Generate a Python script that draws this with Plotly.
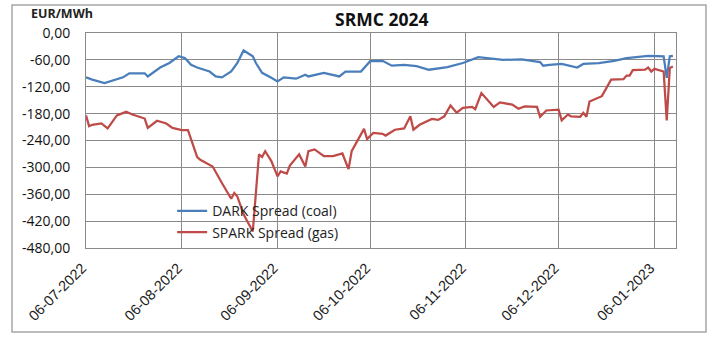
import plotly.graph_objects as go

dark_dates = ["2022-07-06","2022-07-08","2022-07-12","2022-07-15","2022-07-18","2022-07-20","2022-07-25","2022-07-26",
"2022-07-28","2022-07-30","2022-08-02","2022-08-05","2022-08-07","2022-08-09","2022-08-11","2022-08-15","2022-08-17",
"2022-08-19","2022-08-22","2022-08-24","2022-08-26","2022-08-29","2022-08-30","2022-09-01","2022-09-04","2022-09-06",
"2022-09-08","2022-09-12","2022-09-15","2022-09-16","2022-09-21","2022-09-26","2022-09-28","2022-10-03","2022-10-06",
"2022-10-10","2022-10-13","2022-10-17","2022-10-21","2022-10-25","2022-10-31","2022-11-05","2022-11-10","2022-11-15",
"2022-11-18","2022-11-24","2022-11-30","2022-12-01","2022-12-03","2022-12-07","2022-12-12","2022-12-14","2022-12-19",
"2022-12-24","2022-12-28","2023-01-04","2023-01-09","2023-01-10","2023-01-11","2023-01-12"]
dark_values = [-99,-104,-112,-106,-99,-90,-90,-97,-86,-77,-67,-52,-56,-71,-77,-86,-97,-99,-86,-67,-39,-52,-67,-89,-100,-108,
-99,-102,-93,-97,-89,-97,-86,-86,-63,-62,-73,-71,-74,-82,-76,-67,-54,-58,-60,-59,-65,-73,-71,-69,-77,-69,-67,-62,-56,-51,
-52,-100,-52,-51]

spark_dates = ["2022-07-06","2022-07-07","2022-07-08","2022-07-11","2022-07-13","2022-07-16","2022-07-19","2022-07-21",
"2022-07-25","2022-07-26","2022-07-29","2022-08-01","2022-08-03","2022-08-06","2022-08-08","2022-08-11","2022-08-12",
"2022-08-16","2022-08-19","2022-08-22","2022-08-23","2022-08-24","2022-08-26","2022-08-28","2022-08-29","2022-08-31",
"2022-09-01","2022-09-02","2022-09-04","2022-09-06","2022-09-07","2022-09-09","2022-09-10","2022-09-13","2022-09-15",
"2022-09-16","2022-09-18","2022-09-21","2022-09-24","2022-09-27","2022-09-29","2022-09-30","2022-10-02","2022-10-04",
"2022-10-05","2022-10-07","2022-10-10","2022-10-11","2022-10-14","2022-10-17","2022-10-19","2022-10-20","2022-10-22",
"2022-10-26","2022-10-28","2022-10-30","2022-11-01","2022-11-03","2022-11-05","2022-11-08","2022-11-09","2022-11-11",
"2022-11-15","2022-11-17","2022-11-21","2022-11-23","2022-11-25","2022-11-29","2022-11-30","2022-12-02","2022-12-06",
"2022-12-07","2022-12-09","2022-12-10","2022-12-13","2022-12-14","2022-12-15","2022-12-16","2022-12-20","2022-12-23",
"2022-12-27","2022-12-28","2022-12-29","2022-12-30","2023-01-03","2023-01-04","2023-01-05","2023-01-06","2023-01-09",
"2023-01-10","2023-01-11","2023-01-12"]
spark_values = [-184,-208,-205,-202,-213,-184,-176,-182,-191,-212,-196,-202,-212,-217,-217,-277,-283,-298,-335,-370,-357,
-365,-405,-431,-443,-271,-277,-264,-286,-320,-309,-314,-296,-271,-298,-264,-260,-275,-275,-269,-304,-264,-238,-214,-237,
-223,-225,-229,-216,-213,-186,-216,-205,-192,-194,-186,-162,-178,-167,-165,-170,-134,-165,-155,-160,-169,-164,-165,-187,
-173,-171,-195,-182,-186,-187,-178,-187,-153,-141,-104,-103,-95,-95,-83,-82,-77,-86,-80,-86,-195,-78,-75]

x_tick_dates = ["2022-07-06","2022-08-06","2022-09-06","2022-10-06","2022-11-06","2022-12-06","2023-01-06"]
x_tick_labels = ["06-07-2022","06-08-2022","06-09-2022","06-10-2022","06-11-2022","06-12-2022","06-01-2023"]
y_tick_values = [0,-60,-120,-180,-240,-300,-360,-420,-480]
y_tick_labels = ["0,00","-60,00","-120,00","-180,00","-240,00","-300,00","-360,00","-420,00","-480,00"]

GRID = "#8a8a8a"
fig = go.Figure()
fig.add_trace(go.Scatter(x=dark_dates, y=dark_values, mode="lines", name="DARK Spread (coal)",
                         line=dict(color="#4A7EBB", width=2.25)))
fig.add_trace(go.Scatter(x=spark_dates, y=spark_values, mode="lines", name="SPARK Spread (gas)",
                         line=dict(color="#BE4B48", width=2.25)))

fig.update_layout(
    width=711, height=337, template="none",
    margin=dict(l=86, r=35, t=33, b=89, autoexpand=False),
    paper_bgcolor="white", plot_bgcolor="white",
    showlegend=True,
    legend=dict(x=0.146, y=0.245, xanchor="left", yanchor="top", bgcolor="rgba(0,0,0,0)",
                font=dict(family="Open Sans", size=14, color="#222"), tracegroupgap=0),
    xaxis=dict(type="date", range=["2022-07-06", "2023-01-13"], tickvals=x_tick_dates, ticktext=x_tick_labels,
               tickangle=-45, showgrid=True, gridcolor=GRID, gridwidth=1, showline=True, linecolor=GRID,
               linewidth=1, mirror=True, zeroline=False, ticks="", automargin=False,
               ticklabelshift=-4, ticklabelstandoff=5,
               tickfont=dict(family="Liberation Sans", size=14.5, color="#222")),
    yaxis=dict(range=[-480, 0], tickvals=y_tick_values, ticktext=y_tick_labels, showgrid=True, gridcolor=GRID,
               gridwidth=1, showline=True, linecolor=GRID, linewidth=1, mirror=True, zeroline=False, ticks="",
               automargin=False, ticklabelstandoff=12,
               tickfont=dict(family="Open Sans", size=14, color="#111")),
    annotations=[
        dict(text="<b>SRMC 2024</b>", xref="paper", yref="paper", x=0.5, y=1.0665, xanchor="center",
             yanchor="middle", showarrow=False, font=dict(family="Open Sans", size=17.5, color="#111")),
        dict(text="<b>EUR/MWh</b>", xref="paper", yref="paper", x=-0.0407, y=1.093, xanchor="center",
             yanchor="middle", showarrow=False, font=dict(family="Open Sans", size=12.5, color="#222")),
    ],
    shapes=[dict(type="rect", xref="paper", yref="paper", x0=-0.1254, x1=1.0508, y0=-0.3907, y1=1.1302,
                 line=dict(color="#a6a6a6", width=1.5), fillcolor="rgba(0,0,0,0)", layer="below")],
)

fig.write_html("out.html")
